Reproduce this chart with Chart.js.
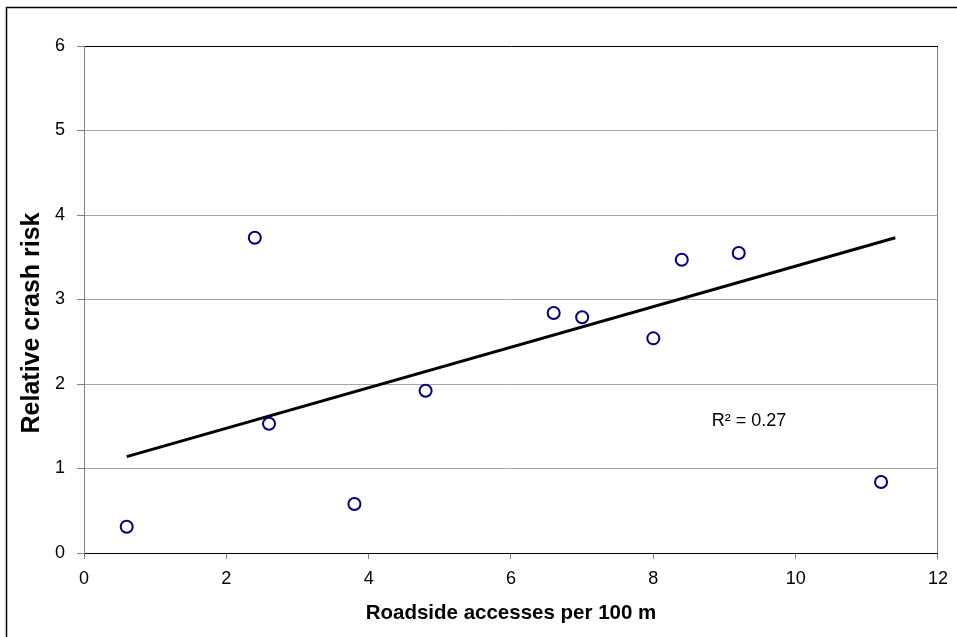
<!DOCTYPE html>
<html>
<head>
<meta charset="utf-8">
<script src="https://cdn.jsdelivr.net/npm/chart.js@4.4.1/dist/chart.umd.min.js"></script>
<style>
  html, body { margin: 0; padding: 0; background: #fff; overflow: hidden; }
  canvas { display: block; }
</style>
</head>
<body>
<canvas id="crashChart" width="957" height="637"></canvas>
<script>
// readings from the picture
const accessesPer100m = [0.6, 2.4, 2.6, 3.8, 4.8, 6.6, 7.0, 8.0, 8.4, 9.2, 11.2];
const relativeRisk = [0.31, 3.73, 1.53, 0.58, 1.92, 2.84, 2.79, 2.54, 3.47, 3.55, 0.84];
const trendX = [0.6, 11.4];
const trendY = [1.14, 3.73];
const rSquaredLabel = 'R² = 0.27';
const yTitle = 'Relative crash risk';
const xTitle = 'Roadside accesses per 100 m';
const xTicks = [0, 2, 4, 6, 8, 10, 12];
const yTicks = [0, 1, 2, 3, 4, 5, 6];

const points = accessesPer100m.map((x, i) => ({ x: x, y: relativeRisk[i] }));
const trend = trendX.map((x, i) => ({ x: x, y: trendY[i] }));

const FONT = '"Liberation Sans", Arial, sans-serif';

// outer frame, y title (bigger + lower than centre in the original) and R² label
const extras = {
  id: 'extras',
  beforeDraw(chart) {
    const ctx = chart.ctx;
    ctx.save();
    ctx.fillStyle = '#fff';
    ctx.fillRect(0, 0, chart.width, chart.height);
    ctx.strokeStyle = '#000';
    ctx.lineWidth = 1.5;
    ctx.strokeRect(6.5, 7.5, chart.width + 20, chart.height + 20);
    ctx.restore();
  },
  afterDraw(chart) {
    const { ctx, scales } = chart;
    ctx.save();
    ctx.font = '18px ' + FONT;
    ctx.fillStyle = '#000';
    ctx.textBaseline = 'middle';
    ctx.fillText(rSquaredLabel, scales.x.getPixelForValue(8.82), scales.y.getPixelForValue(1.56));

    ctx.translate(32, 323);
    ctx.rotate(-Math.PI / 2);
    ctx.font = 'bold 25px ' + FONT;
    ctx.textAlign = 'center';
    ctx.textBaseline = 'middle';
    ctx.fillText(yTitle, 0, 0);
    ctx.restore();
  }
};

new Chart(document.getElementById('crashChart'), {
  type: 'scatter',
  data: {
    datasets: [
      {
        label: 'Sites',
        data: points,
        pointStyle: 'circle',
        pointRadius: 6,
        pointHoverRadius: 6,
        pointBorderWidth: 2,
        pointBorderColor: '#000080',
        pointBackgroundColor: '#fff',
        order: 1
      },
      {
        type: 'line',
        label: 'Trend',
        data: trend,
        borderColor: '#000',
        borderWidth: 3,
        pointRadius: 0,
        fill: false,
        order: 2
      }
    ]
  },
  options: {
    responsive: false,
    animation: false,
    layout: { padding: { top: 46, right: 19, left: 0, bottom: 0 } },
    plugins: {
      legend: { display: false },
      tooltip: { enabled: false }
    },
    scales: {
      x: {
        type: 'linear',
        min: 0,
        max: 12,
        afterBuildTicks: (scale) => { scale.ticks = xTicks.map(v => ({ value: v })); },
        afterFit: (scale) => { scale.height = 84; },
        border: { color: '#000', width: 1 },
        grid: {
          color: (c) => (c.tick && c.tick.value === 12 ? '#808080' : 'rgba(0,0,0,0)'),
          tickColor: '#808080',
          tickLength: 6
        },
        ticks: {
          color: '#000',
          font: { family: FONT, size: 18 },
          padding: 9,
          maxRotation: 0
        },
        title: {
          display: true,
          text: xTitle,
          color: '#000',
          font: { family: FONT, size: 20.5, weight: 'bold' },
          padding: { top: 0, bottom: 11 }
        }
      },
      y: {
        type: 'linear',
        min: 0,
        max: 6,
        afterBuildTicks: (scale) => { scale.ticks = yTicks.map(v => ({ value: v })); },
        afterFit: (scale) => { scale.width = 84; },
        border: { color: '#808080', width: 1 },
        grid: {
          color: (c) => (c.tick && c.tick.value === 6 ? '#000' : '#a6a6a6'),
          tickColor: '#808080',
          tickLength: 7
        },
        ticks: {
          color: '#000',
          font: { family: FONT, size: 18 },
          padding: 12
        },
        title: { display: false }
      }
    }
  },
  plugins: [extras]
});
</script>
</body>
</html>
